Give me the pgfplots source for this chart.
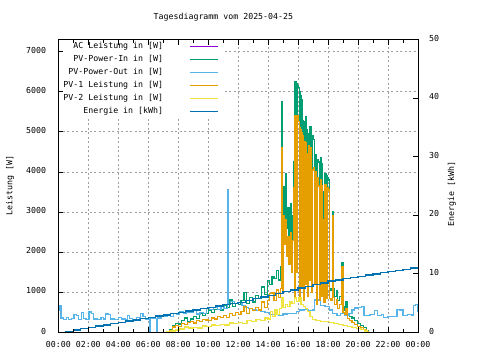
\documentclass[border=0pt]{standalone}
\usepackage{fontspec}
\usepackage{pgfplots}
\pgfplotsset{compat=1.18}
\newfontfamily\gp{DejaVu Sans Mono}
\definecolor{cAC}{HTML}{9400D3}
\definecolor{cIn}{HTML}{009E73}
\definecolor{cOut}{HTML}{56B4E9}
\definecolor{cPA}{HTML}{E69F00}
\definecolor{cPB}{HTML}{F0E442}
\definecolor{cEn}{HTML}{0072B2}
\newcommand{\gpf}{\gp\fontsize{8.3}{10}\selectfont}
\pgfplotsset{
  frameaxis/.style={
    at={(58.3bp,27.5bp)}, anchor=south west,
    scale only axis, width=359.7bp, height=293bp,
    xmin=0, xmax=24, ymin=0, ymax=7300,
    xtick={0,2,...,24},
    minor x tick num=1,
    ytick={0,1000,...,7000},
    ytick pos=left,
    scaled y ticks=false,
    /pgf/number format/1000 sep={},
    /pgf/number format/assume math mode=true,
    tick align=inside,
    major tick length=5bp, minor tick length=3bp,
    tick style={black, line width=0.8bp},
    axis line style={black, line width=0.9bp},
  }
}
\begin{document}
\begin{tikzpicture}
\useasboundingbox (0,0) rectangle (480bp,360bp);
\begin{axis}[
  frameaxis,
  xticklabels={00:00,02:00,04:00,06:00,08:00,10:00,12:00,14:00,16:00,18:00,20:00,22:00,00:00},
  xmajorgrids, ymajorgrids,
  grid style={gray!75, dash pattern=on 2bp off 2.5bp, line width=0.8bp},
  ticklabel style={font=\gpf},
  xticklabel style={anchor=center, yshift=-11.5bp, inner sep=0pt},
  yticklabel style={anchor=east, xshift=-12bp, yshift=1.5bp, inner sep=0pt},
  ylabel={Leistung [W]},
  every axis y label/.style={at={(axis description cs:-0.134,0.502)}, rotate=90, anchor=center, font=\gpf},
  title={Tagesdiagramm vom 2025-04-25},
  every axis title/.style={at={(axis description cs:0.459,1.0744)}, anchor=center, font=\gpf},
  legend style={at={(axis description cs:0,1)}, anchor=north west, draw=none, fill=white,
    inner xsep=3bp, inner ysep=0pt, font=\gpf,
    nodes={inner sep=2bp, text height=7bp, text depth=2bp}, column sep=24.7bp},
  legend cell align=right,
  legend plot pos=right,
  legend image code/.code={\draw[#1, line width=1.1bp] (0bp,0bp) -- (28bp,0bp);},
  every axis plot/.append style={line width=1.3bp},
]
\addlegendimage{color=cAC}
\addlegendentry{AC Leistung in [W]}
\addplot[color=cIn, const plot] table[x=t, y=pin, row sep=\\] {
t pin p1\\
7.30 0 0\\
7.45 80 50\\
7.60 170 140\\
7.80 220 180\\
8.00 210 150\\
8.20 300 220\\
8.40 360 200\\
8.60 280 250\\
8.80 340 270\\
9.00 400 240\\
9.20 350 300\\
9.40 480 280\\
9.60 420 330\\
9.80 470 310\\
10.00 560 300\\
10.20 500 360\\
10.40 580 340\\
10.60 660 400\\
10.80 560 370\\
11.00 680 420\\
11.20 620 380\\
11.40 810 470\\
11.60 650 430\\
11.80 720 500\\
12.00 700 450\\
12.20 800 520\\
12.40 1000 650\\
12.55 720 480\\
12.75 880 600\\
12.95 760 540\\
13.15 920 620\\
13.35 850 560\\
13.55 1130 760\\
13.75 950 620\\
13.95 1300 800\\
14.10 1200 980\\
14.25 1400 1000\\
14.40 1350 800\\
14.55 1550 1060\\
14.70 1310 880\\
14.82 1640 1100\\
14.90 5750 4600\\
14.96 1450 1000\\
15.03 3630 2900\\
15.10 2800 2200\\
15.17 3950 2800\\
15.24 2600 1900\\
15.32 3100 2400\\
15.40 2400 1700\\
15.48 3200 2500\\
15.56 1700 1500\\
15.64 2900 2300\\
15.70 4250 3600\\
15.75 1700 900\\
15.80 6250 5400\\
15.87 6200 5350\\
15.92 2300 1500\\
15.97 6150 5400\\
16.03 6100 5250\\
16.07 1600 900\\
16.12 6000 5100\\
16.17 5900 5050\\
16.22 1900 1100\\
16.27 5800 4980\\
16.31 5280 4900\\
16.36 1500 800\\
16.42 5250 4750\\
16.47 1900 1200\\
16.52 5370 4720\\
16.57 5050 4450\\
16.62 1500 900\\
16.68 4950 4650\\
16.73 1900 1300\\
16.80 5130 4600\\
16.86 4900 4200\\
16.91 1500 1000\\
16.97 4900 4050\\
17.03 4800 4100\\
17.08 1600 1200\\
17.14 4420 3950\\
17.20 4380 4000\\
17.25 1300 700\\
17.31 4300 3850\\
17.37 4250 3650\\
17.42 1200 800\\
17.48 4350 3800\\
17.55 4200 3650\\
17.60 1300 900\\
17.67 3500 2800\\
17.72 1100 750\\
17.80 3970 3680\\
17.86 3900 3600\\
17.92 1200 850\\
17.98 3850 3620\\
18.05 3800 3550\\
18.10 1100 850\\
18.20 1050 800\\
18.28 3000 2900\\
18.36 1100 880\\
18.45 900 700\\
18.55 1050 820\\
18.65 800 600\\
18.78 900 700\\
18.92 1750 1650\\
19.00 650 500\\
19.10 560 450\\
19.20 770 600\\
19.30 470 350\\
19.45 400 300\\
19.60 360 250\\
19.75 300 200\\
19.95 230 150\\
20.15 180 120\\
20.35 120 80\\
20.55 50 30\\
20.70 0 0\\
};
\addlegendentry{PV-Power-In in [W]}
\addplot[color=cOut, const plot] table[row sep=\\] {
0.00 560\\ 0.10 660\\ 0.18 360\\ 0.35 330\\ 0.55 380\\ 0.70 330\\ 0.90 350\\ 1.05 440\\ 1.20 420\\ 1.35 330\\
1.55 490\\ 1.70 350\\ 1.85 330\\ 2.05 510\\ 2.20 470\\ 2.35 340\\ 2.60 330\\ 2.85 380\\ 3.00 340\\ 3.15 460\\
3.35 440\\ 3.50 340\\ 3.75 330\\ 4.00 380\\ 4.20 340\\ 4.45 330\\ 4.60 420\\ 4.75 350\\ 4.95 330\\ 5.20 370\\
5.40 340\\ 5.50 480\\ 5.65 400\\ 5.80 340\\ 6.00 350\\ 6.10 0\\ 6.14 350\\ 6.55 0\\ 6.60 360\\ 6.85 430\\
7.05 400\\ 7.30 450\\ 7.50 400\\ 7.70 480\\ 7.90 460\\ 8.10 520\\ 8.35 470\\ 8.55 510\\ 8.80 500\\ 9.00 560\\
9.20 460\\ 9.45 500\\ 9.70 470\\ 9.90 600\\ 10.10 580\\ 10.35 620\\ 10.60 580\\ 10.85 640\\ 11.05 600\\ 11.28 3550\\
11.33 700\\ 11.50 770\\ 11.75 720\\ 12.00 740\\ 12.25 680\\ 12.45 620\\ 12.70 600\\ 12.95 580\\ 13.20 540\\ 13.50 520\\
13.80 500\\ 14.10 450\\ 14.40 440\\ 14.70 430\\ 15.00 460\\ 15.30 480\\ 15.60 470\\ 15.90 520\\ 16.10 560\\ 16.40 580\\
16.70 540\\ 16.95 560\\ 17.10 810\\ 17.35 790\\ 17.50 680\\ 17.80 650\\ 18.10 560\\ 18.30 470\\ 18.60 430\\ 18.85 480\\
19.10 430\\ 19.40 470\\ 19.60 560\\ 19.75 610\\ 20.05 620\\ 20.25 640\\ 20.40 430\\ 20.80 450\\ 21.10 550\\ 21.30 430\\
21.55 450\\ 21.70 380\\ 22.00 390\\ 22.40 400\\ 22.60 580\\ 22.80 560\\ 23.00 430\\ 23.30 440\\ 23.60 430\\ 23.70 670\\
23.85 690\\ 23.95 530\\ 24.00 530\\
};
\addlegendentry{PV-Power-Out in [W]}
\addplot[color=cPA, const plot] table[x=t, y=p1, row sep=\\] {
t pin p1\\
7.30 0 0\\
7.45 80 50\\
7.60 170 140\\
7.80 220 180\\
8.00 210 150\\
8.20 300 220\\
8.40 360 200\\
8.60 280 250\\
8.80 340 270\\
9.00 400 240\\
9.20 350 300\\
9.40 480 280\\
9.60 420 330\\
9.80 470 310\\
10.00 560 300\\
10.20 500 360\\
10.40 580 340\\
10.60 660 400\\
10.80 560 370\\
11.00 680 420\\
11.20 620 380\\
11.40 810 470\\
11.60 650 430\\
11.80 720 500\\
12.00 700 450\\
12.20 800 520\\
12.40 1000 650\\
12.55 720 480\\
12.75 880 600\\
12.95 760 540\\
13.15 920 620\\
13.35 850 560\\
13.55 1130 760\\
13.75 950 620\\
13.95 1300 800\\
14.10 1200 980\\
14.25 1400 1000\\
14.40 1350 800\\
14.55 1550 1060\\
14.70 1310 880\\
14.82 1640 1100\\
14.90 5750 4600\\
14.96 1450 1000\\
15.03 3630 2900\\
15.10 2800 2200\\
15.17 3950 2800\\
15.24 2600 1900\\
15.32 3100 2400\\
15.40 2400 1700\\
15.48 3200 2500\\
15.56 1700 1500\\
15.64 2900 2300\\
15.70 4250 3600\\
15.75 1700 900\\
15.80 6250 5400\\
15.87 6200 5350\\
15.92 2300 1500\\
15.97 6150 5400\\
16.03 6100 5250\\
16.07 1600 900\\
16.12 6000 5100\\
16.17 5900 5050\\
16.22 1900 1100\\
16.27 5800 4980\\
16.31 5280 4900\\
16.36 1500 800\\
16.42 5250 4750\\
16.47 1900 1200\\
16.52 5370 4720\\
16.57 5050 4450\\
16.62 1500 900\\
16.68 4950 4650\\
16.73 1900 1300\\
16.80 5130 4600\\
16.86 4900 4200\\
16.91 1500 1000\\
16.97 4900 4050\\
17.03 4800 4100\\
17.08 1600 1200\\
17.14 4420 3950\\
17.20 4380 4000\\
17.25 1300 700\\
17.31 4300 3850\\
17.37 4250 3650\\
17.42 1200 800\\
17.48 4350 3800\\
17.55 4200 3650\\
17.60 1300 900\\
17.67 3500 2800\\
17.72 1100 750\\
17.80 3970 3680\\
17.86 3900 3600\\
17.92 1200 850\\
17.98 3850 3620\\
18.05 3800 3550\\
18.10 1100 850\\
18.20 1050 800\\
18.28 3000 2900\\
18.36 1100 880\\
18.45 900 700\\
18.55 1050 820\\
18.65 800 600\\
18.78 900 700\\
18.92 1750 1650\\
19.00 650 500\\
19.10 560 450\\
19.20 770 600\\
19.30 470 350\\
19.45 400 300\\
19.60 360 250\\
19.75 300 200\\
19.95 230 150\\
20.15 180 120\\
20.35 120 80\\
20.55 50 30\\
20.70 0 0\\
};
\addlegendentry{PV-1 Leistung in [W]}
\addplot[color=cPB, const plot] table[row sep=\\] {
6.95 0\\ 7.20 20\\ 7.50 40\\ 7.80 60\\ 8.10 90\\ 8.40 140\\ 8.70 110\\ 9.00 130\\ 9.30 110\\ 9.60 160\\
9.90 150\\ 10.20 190\\ 10.50 170\\ 10.80 200\\ 11.10 190\\ 11.40 240\\ 11.70 220\\ 12.00 250\\ 12.30 230\\ 12.60 300\\
12.90 280\\ 13.20 330\\ 13.50 300\\ 13.80 360\\ 14.00 340\\ 14.15 520\\ 14.30 400\\ 14.45 560\\ 14.60 450\\ 14.75 600\\
14.90 860\\ 15.00 620\\ 15.15 700\\ 15.30 650\\ 15.45 780\\ 15.60 720\\ 15.75 860\\ 15.90 780\\ 16.05 880\\ 16.20 700\\
16.35 650\\ 16.50 600\\ 16.65 520\\ 16.80 400\\ 16.95 330\\ 17.20 300\\ 17.50 270\\ 17.80 280\\ 18.10 250\\ 18.40 230\\
18.70 200\\ 19.00 170\\ 19.30 150\\ 19.60 120\\ 19.90 100\\ 20.20 70\\ 20.45 40\\ 20.65 0\\
};
\addlegendentry{PV-2 Leistung in [W]}
\addlegendimage{color=cEn}
\addlegendentry{Energie in [kWh]}
\end{axis}
\begin{axis}[
  at={(58.3bp,27.5bp)}, anchor=south west,
  scale only axis, width=359.7bp, height=293bp,
  xmin=0, xmax=24, ymin=0, ymax=50,
  axis x line=none, axis y line*=right,
  ytick={0,10,...,50},
  /pgf/number format/assume math mode=true,
  tick align=inside,
  major tick length=5bp,
  tick style={black, line width=0.8bp},
  axis line style={black, line width=0.9bp},
  ticklabel style={font=\gpf},
  yticklabel style={anchor=west, xshift=11bp, yshift=1.5bp, inner sep=0pt},
  ylabel={Energie [kWh]},
  every axis y label/.style={at={(axis description cs:1.0945,0.473)}, rotate=90, anchor=center, font=\gpf},
]
\addplot[color=cEn, const plot, line width=1.4bp] table[row sep=\\] {
0 0\\ 0.5 0.2\\ 1 0.43\\ 1.5 0.65\\ 2 0.86\\ 2.5 1.08\\ 3 1.29\\ 3.5 1.5\\ 4 1.72\\ 4.5 1.94\\
5 2.15\\ 5.5 2.37\\ 6 2.58\\ 6.5 2.8\\ 7 3.01\\ 7.5 3.23\\ 8 3.44\\ 8.5 3.66\\ 9 3.87\\ 9.5 4.09\\
10 4.3\\ 10.5 4.52\\ 11 4.73\\ 11.5 4.95\\ 12 5.16\\ 12.5 5.46\\ 13 5.76\\ 13.5 6.06\\ 14 6.36\\ 14.5 6.66\\
15 6.96\\ 15.5 7.26\\ 16 7.56\\ 16.5 7.86\\ 17 8.16\\ 17.5 8.46\\ 18 8.76\\ 18.5 8.96\\ 19 9.17\\ 19.5 9.37\\
20 9.58\\ 20.5 9.78\\ 21 9.99\\ 21.5 10.19\\ 22 10.4\\ 22.5 10.6\\ 23 10.8\\ 23.5 11.0\\ 24 11.2\\
};
\end{axis}
\begin{axis}[
  frameaxis,
  xticklabels={}, yticklabels={},
]
\end{axis}
\end{tikzpicture}
\end{document}
